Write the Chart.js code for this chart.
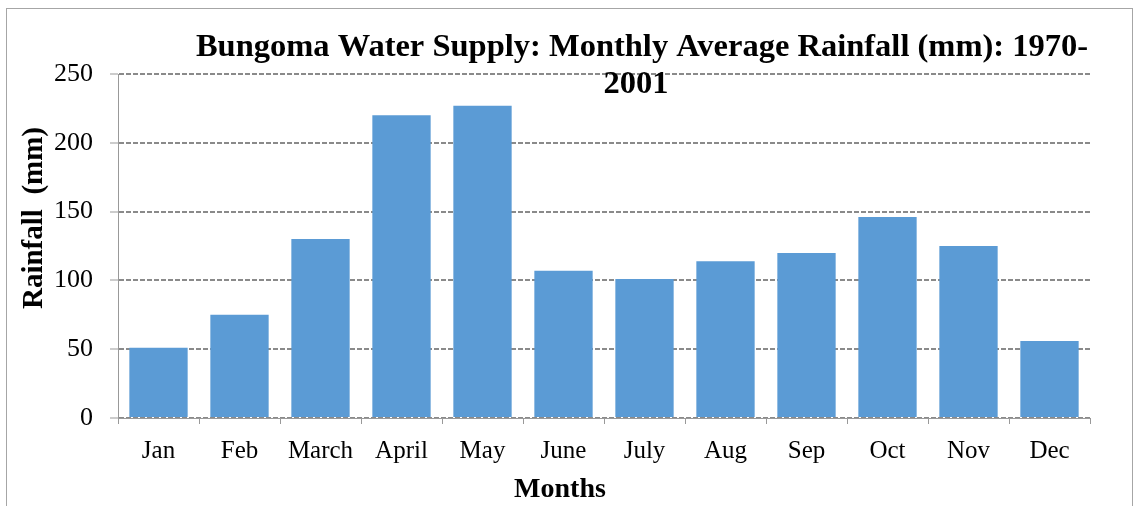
<!DOCTYPE html>
<html>
<head>
<meta charset="utf-8">
<script src="https://cdn.jsdelivr.net/npm/chart.js@4/dist/chart.umd.min.js"></script>
<style>
  html, body { margin: 0; padding: 0; background: #fff; }
  #wrap { position: relative; width: 1136px; height: 506px; }
</style>
</head>
<body>
<div id="wrap"><canvas id="rainChart" width="1136" height="506"></canvas></div>
<script>
const months = ["Jan", "Feb", "March", "April", "May", "June", "July", "Aug", "Sep", "Oct", "Nov", "Dec"];
const rainfall = [51, 75, 130, 220, 227, 107, 101, 114, 120, 146, 125, 56];
const yTicks = [0, 50, 100, 150, 200, 250];

const titleLines = ["Bungoma Water Supply: Monthly Average Rainfall (mm): 1970-", "2001"];
const yTitle = "Rainfall  (mm)";
const xTitle = "Months";

const serif = "'Liberation Serif', 'Times New Roman', serif";

// frame + titles drawn at fixed spots (the title overlaps the plot, like the original)
const textLayer = {
  id: "textLayer",
  beforeDraw(chart) {
    const ctx = chart.ctx;
    ctx.save();
    ctx.strokeStyle = "#a6a6a6";
    ctx.lineWidth = 1;
    ctx.strokeRect(6.5, 8.5, 1126, 600);
    ctx.restore();
  },
  afterDraw(chart) {
    const ctx = chart.ctx;
    ctx.save();
    ctx.fillStyle = "#000";
    ctx.textAlign = "center";
    ctx.textBaseline = "alphabetic";
    ctx.font = "bold 32.5px " + serif;
    ctx.fillText(titleLines[0], 642, 56);
    ctx.fillText(titleLines[1], 636, 93);

    ctx.font = "bold 28px " + serif;
    ctx.fillText(xTitle, 560, 497);

    ctx.translate(42, 218);
    ctx.rotate(-Math.PI / 2);
    ctx.font = "bold 29px " + serif;
    ctx.fillText(yTitle, 0, 0);
    ctx.restore();
  }
};

new Chart(document.getElementById("rainChart"), {
  type: "bar",
  data: {
    labels: months,
    datasets: [
      {
        label: "Rainfall (mm)",
        data: rainfall,
        backgroundColor: "#5b9bd5",
        borderWidth: 0,
        barPercentage: 0.72,
        categoryPercentage: 1.0,
      },
    ],
  },
  options: {
    responsive: false,
    animation: false,
    layout: { padding: { top: 74, right: 46, left: 0, bottom: 0 } },
    plugins: {
      legend: { display: false },
      tooltip: { enabled: false },
    },
    scales: {
      x: {
        afterFit(scale) { scale.height = 88; },
        ticks: {
          color: "#000",
          font: { family: serif, size: 25 },
          padding: 12,
        },
        grid: {
          offset: true,
          drawOnChartArea: false,
          drawTicks: true,
          tickLength: 6,
          color: "#999",
        },
        border: { color: "#999", width: 1 },
      },
      y: {
        min: 0,
        max: 250,
        afterFit(scale) { scale.width = 118; },
        afterBuildTicks(scale) { scale.ticks = yTicks.map(v => ({ value: v })); },
        ticks: {
          color: "#000",
          font: { family: serif, size: 26 },
          padding: 17,
        },
        grid: {
          color: "#8a8a8a",
          lineWidth: 2,
          tickLength: 8,
          tickColor: "#999",
          tickWidth: 1,
          tickBorderDash: [],
        },
        border: { color: "#999", width: 1, dash: [5, 2] },
      },
    },
  },
  plugins: [textLayer],
});
</script>
</body>
</html>
